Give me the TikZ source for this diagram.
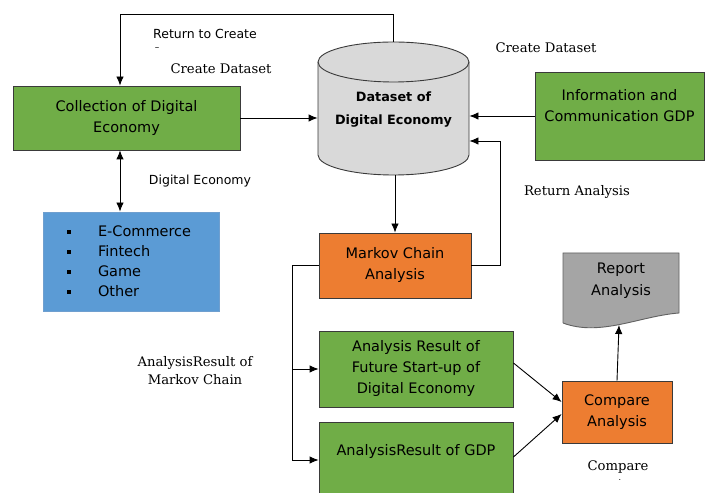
\documentclass[tikz,border=0pt]{standalone}
\usepackage{fontspec}
\setmainfont{DejaVu Sans}
\newfontfamily\slabfont{DejaVu Serif}
\usetikzlibrary{arrows.meta}
\definecolor{boxgreen}{HTML}{70AD47}
\definecolor{boxorange}{HTML}{ED7D31}
\definecolor{boxblue}{HTML}{5B9BD5}
\definecolor{bluerim}{HTML}{6F9FCF}
\definecolor{cylgray}{HTML}{D9D9D9}
\definecolor{docgray}{HTML}{A5A5A5}
\definecolor{rim}{HTML}{3A3A3A}
\newcommand{\sqbul}{\raisebox{3pt}{\rule{4pt}{4pt}}\hspace{27pt}}

\begin{document}
\begin{tikzpicture}[x=1pt,y=1pt,line width=0.9pt,
  >={Latex[length=9pt,width=7.5pt]},
  flowbox/.style={draw=rim, align=center, inner sep=0pt,
    font=\fontsize{14.5}{21}\selectfont},
  greenbox/.style={flowbox, fill=boxgreen},
  orangebox/.style={flowbox, fill=boxorange},
  sanslbl/.style={font=\fontsize{12.5}{15}\selectfont, inner sep=1pt},
  seriflbl/.style={font=\slabfont\fontsize{13.2}{18}\selectfont, align=center}]
\useasboundingbox (0,0) rectangle (708,492);
\clip (0,0) rectangle (708,492);
%%% dataset cylinder in the middle
\node[minimum width=151, minimum height=133, inner sep=0pt] (dataset) at (393.5,383.5) {};
\filldraw[fill=cylgray, draw=rim] (318,430) -- (318,337)
  arc[start angle=180, end angle=360, x radius=75.5, y radius=20] -- (469,430)
  arc[start angle=0, end angle=180, x radius=75.5, y radius=20] -- cycle;
\draw[rim] (318,430) arc[start angle=180, end angle=360, x radius=75.5, y radius=20];
\node[align=center, font=\bfseries\fontsize{12.8}{23}\selectfont] (dstext) at (393.5,382) {Dataset of\\Digital Economy};
%%% sources of the dataset
\node[greenbox, minimum width=227, minimum height=64] (coll) at (126.5,374) {Collection of Digital\\Economy};
\node[greenbox, minimum width=169, minimum height=88] (ict) at (619.5,376) {Information and\\Communication GDP\\ \mbox{}};
\node[draw=bluerim, fill=boxblue, minimum width=176, minimum height=99,
  text width=150, inner xsep=13, align=left, font=\fontsize{14.5}{20}\selectfont] (cat) at (131,230.5)
  {\hspace{11pt}\sqbul E-Commerce\\\hspace{11pt}\sqbul Fintech\\\hspace{11pt}\sqbul Game\\\hspace{11pt}\sqbul Other};
%%% analysis part
\node[orangebox, minimum width=152, minimum height=65] (mkv) at (395,226.5) {Markov Chain\\Analysis};
\node[greenbox, minimum width=194, minimum height=76] (fut) at (416,123) {Analysis Result of\\Future Start-up of\\Digital Economy};
\node[greenbox, minimum width=194, minimum height=76] (gdp) at (416,32) {AnalysisResult of GDP\\ \mbox{}};
\node[orangebox, minimum width=110, minimum height=62] (cmp) at (617,80) {Compare\\Analysis};
% report document with the wavy bottom
\filldraw[fill=docgray, draw=rim!80] (563,169) -- (563,239) -- (679,239) -- (679,179)
  .. controls (640,176) and (600,155) .. (563,169);
\node[align=center, font=\fontsize{14.5}{22}\selectfont] (rep) at (621,211) {Report\\Analysis};
\coordinate (repb) at (619,167);
%%% labels
\node[sanslbl] (lret) at (205,458) {Return to Create};
\node[font=\fontsize{9}{9}\selectfont, inner sep=0pt] (ldash) at (157,443) {–};
\node[seriflbl] (lcr1) at (221,423) {Create Dataset};
\node[seriflbl] (lcr2) at (546,444) {Create Dataset};
\node[sanslbl] (ldig) at (200,311) {Digital Economy};
\node[seriflbl] (lra) at (577,300) {Return Analysis};
\node[seriflbl] (lres) at (195,121) {AnalysisResult of\\Markov Chain};
\node[seriflbl] (lcmp) at (618,25) {Compare};
\node[font=\fontsize{8}{8}\selectfont, inner sep=0pt] (ldot) at (620,12) {.};
%%% connectors
\coordinate (rtop) at (120,478);
\coordinate (reta) at (500,351);
\coordinate (spl) at (292,0);
\draw[->] (dataset.north) |- (rtop) -- (rtop |- coll.north);
\draw[->] (coll.east) -- (coll.east -| dataset.west);
\draw[->] (ict.west) -- (ict.west -| dataset.east);
\draw[<->] ([xshift=-6.5]coll.south) -- ([xshift=-6.5]coll.south |- cat.north);
\draw[->] (mkv.north |- dataset.south) -- (mkv.north);
\draw[->] (mkv.east) -| (reta) -- (reta -| dataset.east);
\draw[->] (mkv.west) -- (mkv.west -| spl) |- (gdp.west);
\draw[->] (fut.west -| spl) -- (fut.west);
\draw[->] ([yshift=6]fut.east) -- ([yshift=10]cmp.west);
\draw[->] ([yshift=3]gdp.east) -- ([yshift=-2]cmp.west);
\draw[->] (cmp.north) -- (repb);
\end{tikzpicture}
\end{document}
